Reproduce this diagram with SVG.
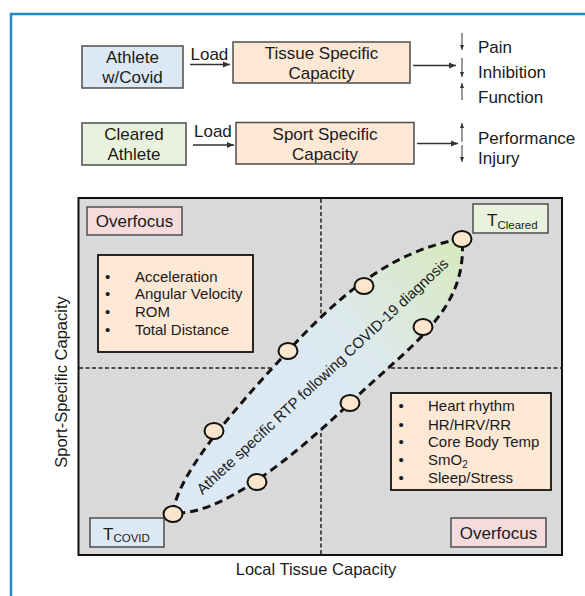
<svg xmlns="http://www.w3.org/2000/svg" width="585" height="596" viewBox="0 0 585 596">
<defs>
<style>
text{font-family:"Liberation Sans",Arial,sans-serif;fill:#1a1a1a}
.box{stroke:#4d4d4d;stroke-width:1.5}
.blue{fill:#dde8f5}.peach{fill:#fde8d6}.green{fill:#e8f2dc}.pink{fill:#f5dcdc}
.t17{font-size:17px}.t15{font-size:15px}
.flow{stroke:#333;stroke-width:1.3;fill:none}
.thin{stroke:#333;stroke-width:1;fill:none}
.axis{stroke:#222;stroke-width:1.5;stroke-dasharray:4 2.5;fill:none}
.pt{fill:#fde6cc;stroke:#111;stroke-width:2}
</style>
<marker id="ah" markerUnits="userSpaceOnUse" markerWidth="8" markerHeight="8" refX="7" refY="4" orient="auto">
<path d="M0,1 L7,4 L0,7 Z" fill="#333"/>
</marker>
<marker id="sh" markerUnits="userSpaceOnUse" markerWidth="6" markerHeight="6" refX="5" refY="3" orient="auto">
<path d="M0,1 L5,3 L0,5 Z" fill="#333"/>
</marker>
<linearGradient id="lg" gradientUnits="userSpaceOnUse" x1="173" y1="513" x2="462" y2="239">
<stop offset="0" stop-color="#dce8f5"/>
<stop offset="0.6" stop-color="#dde9f1"/>
<stop offset="1" stop-color="#d7e9bd"/>
</linearGradient>
</defs>
<rect width="585" height="596" fill="#fff"/>
<path d="M11,596 V14 H585" fill="none" stroke="#1f8bc6" stroke-width="2.5"/>

<g id="athlete-covid">
<rect class="box blue" x="82" y="46" width="101" height="42"/>
<text class="t17" x="132.5" y="63" text-anchor="middle">Athlete</text>
<text class="t17" x="132.5" y="83" text-anchor="middle">w/Covid</text>
</g>
<g id="tissue-capacity">
<rect class="box peach" x="233" y="42" width="177" height="41"/>
<text class="t17" x="321.5" y="59" text-anchor="middle">Tissue Specific</text>
<text class="t17" x="321.5" y="79" text-anchor="middle">Capacity</text>
</g>
<g id="cleared-athlete">
<rect class="box green" x="82" y="123" width="104" height="42"/>
<text class="t17" x="134" y="139.5" text-anchor="middle">Cleared</text>
<text class="t17" x="134" y="159.5" text-anchor="middle">Athlete</text>
</g>
<g id="sport-capacity">
<rect class="box peach" x="236" y="122.5" width="178" height="41.5"/>
<text class="t17" x="325" y="139.5" text-anchor="middle">Sport Specific</text>
<text class="t17" x="325" y="159.5" text-anchor="middle">Capacity</text>
</g>
<g id="outcomes-1">
<text class="t17" x="478" y="53">Pain</text>
<text class="t17" x="478" y="78">Inhibition</text>
<text class="t17" x="478" y="103">Function</text>
</g>
<g id="outcomes-2">
<text class="t17" x="478" y="144">Performance</text>
<text class="t17" x="478" y="164">Injury</text>
</g>

<g id="connectors">
<text class="t17" x="190.5" y="60">Load</text>
<text class="t17" x="194" y="137">Load</text>
<line class="flow" x1="190" y1="64.5" x2="230" y2="64.5" marker-end="url(#ah)"/>
<line class="flow" x1="193" y1="145" x2="234" y2="145" marker-end="url(#ah)"/>
<line class="flow" x1="413" y1="65.5" x2="456" y2="65.5" marker-end="url(#ah)"/>
<line class="flow" x1="417" y1="143.5" x2="458" y2="143.5" marker-end="url(#ah)"/>
<line class="thin" x1="462" y1="33" x2="462" y2="50" marker-end="url(#sh)"/>
<line class="thin" x1="462" y1="58" x2="462" y2="77" marker-end="url(#sh)"/>
<line class="thin" x1="462" y1="100" x2="462" y2="83" marker-end="url(#sh)"/>
<line class="thin" x1="462" y1="142" x2="462" y2="123" marker-end="url(#sh)"/>
<line class="thin" x1="462" y1="145" x2="462" y2="162" marker-end="url(#sh)"/>
</g>

<g id="plot">
<rect x="78.5" y="198" width="483.5" height="357" fill="#d9d9d9" stroke="#111" stroke-width="2"/>
<line class="axis" x1="321" y1="199" x2="321" y2="554"/>
<line class="axis" x1="79" y1="368" x2="561" y2="368"/>
</g>

<g id="overfocus-top">
<rect class="box pink" x="87" y="207" width="95" height="28"/>
<text class="t17" x="134.5" y="227" text-anchor="middle">Overfocus</text>
</g>
<g id="t-cleared">
<rect class="box green" x="473" y="204" width="75" height="29"/>
<text class="t17" x="487" y="226">T<tspan font-size="11.5" dy="2.5">Cleared</tspan></text>
</g>
<g id="sport-metrics">
<rect x="98" y="255" width="155" height="97" fill="#fde8d6" stroke="#111" stroke-width="1.8"/>
<g class="t15">
<text x="105" y="281.5">•</text><text x="135" y="281.5">Acceleration</text>
<text x="105" y="299.3">•</text><text x="135" y="299.3">Angular Velocity</text>
<text x="105" y="317">•</text><text x="135" y="317">ROM</text>
<text x="105" y="335">•</text><text x="135" y="335">Total Distance</text>
</g>
</g>
<g id="tissue-metrics">
<rect x="391" y="393" width="160" height="97" fill="#fde8d6" stroke="#111" stroke-width="1.8"/>
<g class="t15">
<text x="398.5" y="411">•</text><text x="428" y="411">Heart rhythm</text>
<text x="398.5" y="429.5">•</text><text x="428" y="429.5">HR/HRV/RR</text>
<text x="398.5" y="447">•</text><text x="428" y="447">Core Body Temp</text>
<text x="398.5" y="465">•</text><text x="428" y="465">SmO<tspan font-size="10" dy="3">2</tspan></text>
<text x="398.5" y="483.3">•</text><text x="428" y="483.3">Sleep/Stress</text>
</g>
</g>
<g id="t-covid">
<rect class="box blue" x="90" y="518" width="74" height="29"/>
<text class="t17" x="103" y="540">T<tspan font-size="11.5" dy="2">COVID</tspan></text>
</g>
<g id="overfocus-bottom">
<rect class="box pink" x="451" y="518" width="95" height="29"/>
<text class="t17" x="498.5" y="538.5" text-anchor="middle">Overfocus</text>
</g>

<g id="rtp-path">
<path d="M173,513 C178,470 246,397 288,351 C335,300 390,250 462,239 C468,310 412,344 351,402 C290,460 220,516 173,513 Z" fill="url(#lg)" stroke="#111" stroke-width="3" stroke-dasharray="8 5"/>
<text class="t15" transform="translate(326,380) rotate(-43)" text-anchor="middle">Athlete specific RTP following COVID-19 diagnosis</text>
<ellipse class="pt" cx="173" cy="514" rx="9.5" ry="8"/>
<ellipse class="pt" cx="462" cy="239" rx="9.5" ry="8"/>
<ellipse class="pt" cx="214" cy="431" rx="9.5" ry="8"/>
<ellipse class="pt" cx="288" cy="351" rx="9.5" ry="8"/>
<ellipse class="pt" cx="364" cy="286" rx="9.5" ry="8"/>
<ellipse class="pt" cx="257" cy="482" rx="9.5" ry="8"/>
<ellipse class="pt" cx="350" cy="403" rx="9.5" ry="8"/>
<ellipse class="pt" cx="423" cy="327" rx="9.5" ry="8"/>
</g>

<g id="axis-labels">
<text font-size="16.5" x="316" y="575" text-anchor="middle">Local Tissue Capacity</text>
<text font-size="16.5" transform="translate(67,382) rotate(-90)" text-anchor="middle">Sport-Specific Capacity</text>
</g>
</svg>
